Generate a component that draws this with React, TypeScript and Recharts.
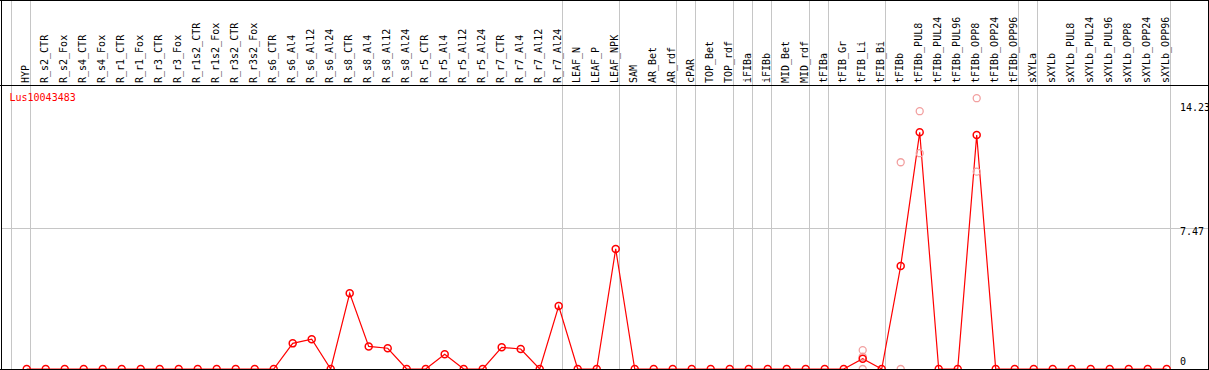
import { ComposedChart, Line, Scatter, XAxis, YAxis, ReferenceLine } from "recharts";

const categories = [
  "HYP", "R_s2_CTR", "R_s2_Fox", "R_s4_CTR", "R_s4_Fox", "R_r1_CTR", "R_r1_Fox", "R_r3_CTR", "R_r3_Fox",
  "R_r1s2_CTR", "R_r1s2_Fox", "R_r3s2_CTR", "R_r3s2_Fox", "R_s6_CTR", "R_s6_Al4", "R_s6_Al12", "R_s6_Al24",
  "R_s8_CTR", "R_s8_Al4", "R_s8_Al12", "R_s8_Al24", "R_r5_CTR", "R_r5_Al4", "R_r5_Al12", "R_r5_Al24",
  "R_r7_CTR", "R_r7_Al4", "R_r7_Al12", "R_r7_Al24", "LEAF_N", "LEAF_P", "LEAF_NPK", "SAM", "AR_Bet", "AR_rdf",
  "cPAR", "TOP_Bet", "TOP_rdf", "iFIBa", "iFIBb", "MID_Bet", "MID_rdf", "tFIBa", "tFIB_Gr", "tFIB_Li", "tFIB_Bi",
  "tFIBb", "tFIBb_PUL8", "tFIBb_PUL24", "tFIBb_PUL96", "tFIBb_OPP8", "tFIBb_OPP24", "tFIBb_OPP96",
  "sXYLa", "sXYLb", "sXYLb_PUL8", "sXYLb_PUL24", "sXYLb_PUL96", "sXYLb_OPP8", "sXYLb_OPP24", "sXYLb_OPP96",
];

// mean expression per sample
const means = [
  0, 0, 0, 0, 0, 0, 0, 0, 0, 0, 0, 0, 0, 0, 1.36, 1.58, 0,
  4.02, 1.2, 1.1, 0, 0, 0.78, 0, 0,
  1.15, 1.06, 0, 3.34, 0, 0, 6.37, 0, 0, 0,
  0, 0, 0, 0, 0, 0, 0, 0, 0, 0.55, 0,
  5.47, 12.56, 0, 0, 12.42, 0, 0,
  0, 0, 0, 0, 0, 0, 0, 0,
];

// individual replicates that show apart from the mean
const replicateCategories = [
  "tFIB_Li", "tFIB_Li", "tFIB_Li", "tFIBb", "tFIBb", "tFIBb_PUL8", "tFIBb_PUL8", "tFIBb_OPP8", "tFIBb_OPP8",
];
const replicateValues = [1.0, 0.65, 0, 10.97, 0, 13.68, 11.45, 14.37, 10.47];

const yTicks = [0, 7.47, 14.23];
const yMax = 15.07;

// grey separators drawn after these samples ("" = before the first one)
const dividerAfter = [
  "", "HYP", "R_r7_Al24", "LEAF_NPK", "AR_rdf", "cPAR", "TOP_rdf", "iFIBa", "iFIBb",
  "MID_rdf", "tFIBa", "tFIB_Bi", "tFIBb_OPP96", "sXYLa", "sXYLb_OPP96",
];

const geneName = "Lus10043483";

const W = 1209;
const H = 370;
const FONT = '"DejaVu Sans Mono", monospace';
const GREY = "#c6c6c6";

const data = categories.map((name, idx) => ({ idx, name, value: means[idx] }));
const reps = replicateValues.map((rep, i) => ({ idx: categories.indexOf(replicateCategories[i]), rep }));
const dividers = dividerAfter.map((n) => (n === "" ? -1 : categories.indexOf(n)) + 0.18);

function CategoryTick(props: any) {
  const { x, payload } = props;
  const bx = x + 2.5;
  const by = 83;
  return (
    <text
      x={bx}
      y={by}
      transform={`rotate(-90, ${bx}, ${by})`}
      fontFamily={FONT}
      fontSize={10}
      fill="#000"
      textAnchor="start"
    >
      {categories[payload.value]}
    </text>
  );
}

function ValueTick(props: any) {
  const { x, y, payload, index } = props;
  const dy = [-3.7, 7, 9.8][index] ?? 0;
  return (
    <text x={x + 1} y={y + dy} fontFamily={FONT} fontSize={10} fill="#000" textAnchor="start">
      {payload.value}
    </text>
  );
}

export default function App() {
  return (
    <div style={{ position: "fixed", left: 0, top: 0, width: W, height: H, background: "#fff" }}>
      <ComposedChart width={W} height={H} data={data} margin={{ top: 0, right: 0, bottom: 1, left: 1 }}>
        <XAxis
          type="number"
          dataKey="idx"
          orientation="top"
          height={85}
          domain={[-1.353, 60.226]}
          allowDataOverflow
          ticks={data.map((d) => d.idx)}
          interval={0}
          tick={<CategoryTick />}
          tickLine={false}
          axisLine={false}
        />
        <YAxis
          orientation="right"
          width={38}
          domain={[0, yMax]}
          allowDataOverflow
          ticks={yTicks}
          interval={0}
          tick={<ValueTick />}
          tickLine={false}
          axisLine={false}
        />
        <ReferenceLine
          y={7.47}
          shape={(p: any) => (
            <line x1={1} x2={1208} y1={p.y1} y2={p.y1} stroke={GREY} strokeWidth={1} shapeRendering="crispEdges" />
          )}
        />
        {dividers.map((d) => (
          <ReferenceLine
            key={d}
            x={d}
            shape={(p: any) => (
              <line x1={p.x1} x2={p.x1} y1={0} y2={369} stroke={GREY} strokeWidth={1} shapeRendering="crispEdges" />
            )}
          />
        ))}
        <Scatter
          data={reps}
          dataKey="rep"
          isAnimationActive={false}
          shape={(p: any) => <circle cx={p.cx} cy={p.cy} r={3.5} fill="none" stroke="#f2a0a0" strokeWidth={1.3} />}
        />
        <Line
          dataKey="value"
          stroke="#ff0000"
          strokeWidth={1.2}
          dot={{ r: 3.5, stroke: "#ff0000", strokeWidth: 1.5, fill: "none" }}
          isAnimationActive={false}
        />
      </ComposedChart>
      <svg width={W} height={H} style={{ position: "absolute", left: 0, top: 0, pointerEvents: "none" }}>
        <g stroke="#000" strokeWidth={1} shapeRendering="crispEdges">
          <line x1={0} x2={W} y1={0.5} y2={0.5} />
          <line x1={0} x2={W} y1={85.5} y2={85.5} />
          <line x1={0} x2={W} y1={369.5} y2={369.5} />
          <line x1={1.5} x2={1.5} y1={0} y2={H} />
          <line x1={1208.5} x2={1208.5} y1={0} y2={H} />
        </g>
        <text x={9.5} y={101} fontFamily={FONT} fontSize={10} fill="#ff0000">
          {geneName}
        </text>
      </svg>
    </div>
  );
}
